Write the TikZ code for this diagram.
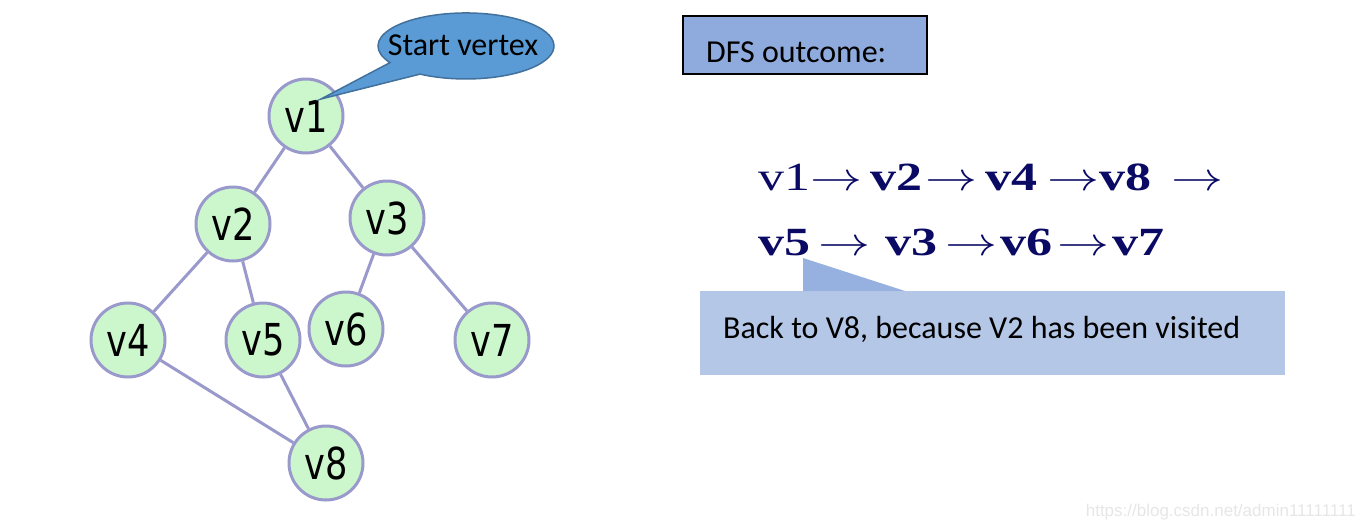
\RequirePackage{fix-cm}
\documentclass[tikz,border=0pt]{standalone}
\usepackage{fontspec}
\usepackage{graphicx}
\setmainfont{Carlito}
\newfontfamily\nodefont[FakeStretch=0.8]{DejaVu Sans}
\newfontfamily\seqfont{Liberation Serif}
\newfontfamily\wmfont{Liberation Sans}
\usetikzlibrary{shapes.geometric}
\definecolor{vfill}{RGB}{204,247,204}
\definecolor{vline}{RGB}{153,153,204}
\definecolor{callfill}{RGB}{91,155,213}
\definecolor{callline}{RGB}{65,113,156}
\definecolor{dfsfill}{RGB}{143,170,220}
\definecolor{backfill}{RGB}{180,199,231}
\definecolor{tailfill}{RGB}{150,176,224}
\definecolor{navy}{RGB}{10,10,100}
\definecolor{wm}{RGB}{230,230,230}
\newcommand{\arr}{\scalebox{1.3}[1]{$\rightarrow$}}
\newcommand{\tk}[1]{\scalebox{1.3}[1]{#1}}
\newcommand{\btk}[1]{\scalebox{1.3}[1]{\bfseries #1}}
\tikzset{
  vtx/.style={circle, draw=vline, fill=vfill, line width=3pt, minimum size=74pt, inner sep=0pt,
    font=\nodefont\fontsize{44}{48}\selectfont},
  edge/.style={draw=vline, line width=3pt},
  calltxt/.style={font=\fontsize{32}{36}\selectfont, inner sep=0pt},
  seq/.style={font=\seqfont\fontsize{40}{46}\selectfont, text=navy, inner sep=0pt, anchor=base west},
}
\begin{document}
\begin{tikzpicture}[x=1pt,y=-1pt]
\useasboundingbox (0,0) rectangle (1364,528);
% vertices
\node[vtx] (v1) at (306,116) {v1};
\node[vtx] (v2) at (233,224) {v2};
\node[vtx] (v3) at (387,218) {v3};
\node[vtx] (v4) at (128,340) {v4};
\node[vtx] (v5) at (263,340) {v5};
\node[vtx] (v6) at (346,329) {v6};
\node[vtx] (v7) at (492,340) {v7};
\node[vtx] (v8) at (326,463) {v8};
\draw[edge] (v1) -- (v2);
\draw[edge] (v1) -- (v3);
\draw[edge] (v2) -- (v4);
\draw[edge] (v2) -- (v5);
\draw[edge] (v3) -- (v6);
\draw[edge] (v3) -- (v7);
\draw[edge] (v4) -- (v8);
\draw[edge] (v5) -- (v8);
% start vertex callout
\coordinate (tip) at (321,99);
\draw[fill=callfill, draw=callline, line width=1.5pt]
  (tip) -- (420,74.1) arc[start angle=121.5, end angle=-210.3, x radius=88, y radius=33] -- cycle;
\node[calltxt] (sv) at (463,45) {Start vertex};
% DFS outcome box
\draw[draw=black, line width=1.2pt, fill=dfsfill] (683,16) rectangle (927,74);
\node[calltxt, anchor=base west] (dfs) at (706,62) {DFS outcome:};
% sequence
\node[seq] (l1) at (758,190) {\tk{v1}\arr\hspace{8pt}\btk{v2}\hspace{3pt}\arr\hspace{8pt}\btk{v4}\hspace{10pt}\arr\btk{v8}\hspace{20pt}\arr};
\node[seq] (l2) at (758,255) {\btk{v5}\hspace{8pt}\arr\hspace{15pt}\btk{v3}\hspace{8pt}\arr\hspace{3pt}\btk{v6}\hspace{5pt}\arr\hspace{3pt}\btk{v7}};
% back callout
\fill[backfill] (700,291) rectangle (1285,375);
\coordinate (btip) at (803,258);
\fill[tailfill] (btip) -- (803,291) -- (905,291) -- cycle;
\node[calltxt, anchor=base west] (back) at (723,338) {Back to V8, because V2 has been visited};
% watermark
\node[font=\wmfont\fontsize{17}{20}\selectfont, text=wm, anchor=base east, inner sep=0pt] (wmk) at (1356,516) {https://blog.csdn.net/admin11111111};
\end{tikzpicture}
\end{document}
